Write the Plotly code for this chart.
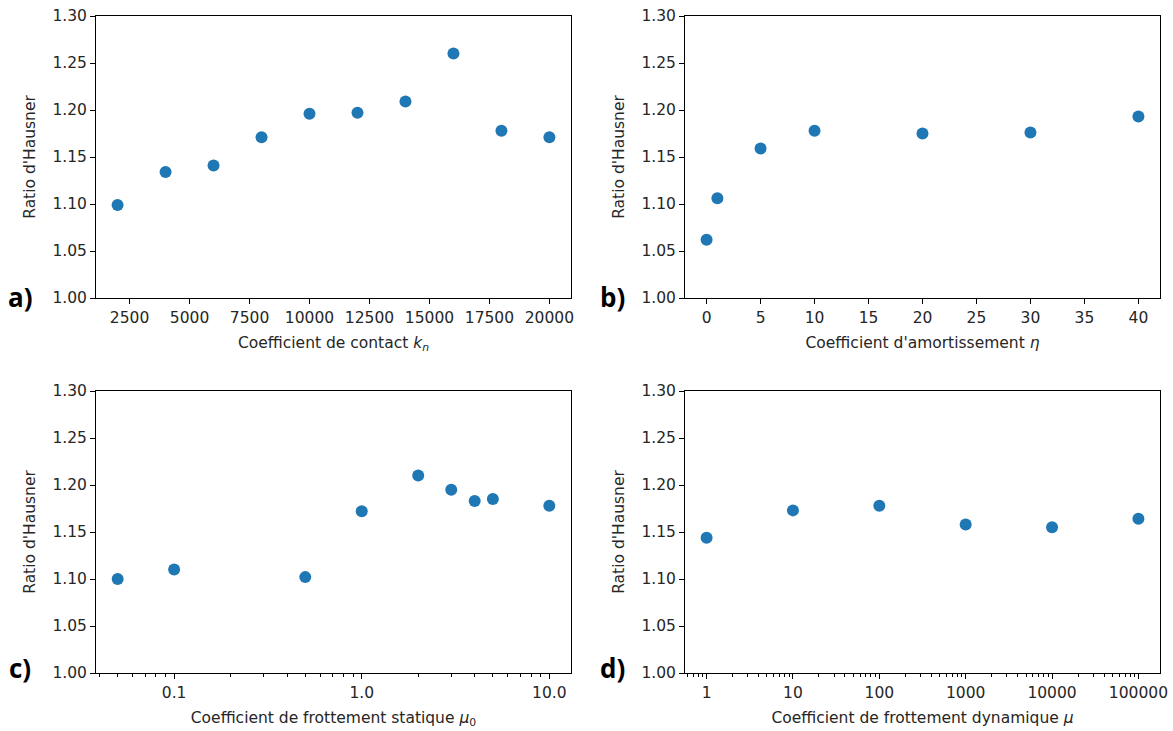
import plotly.graph_objects as go

# ---- data ----
kn = [2000, 4000, 6000, 8000, 10000, 12000, 14000, 16000, 18000, 20000]
hr_kn = [1.099, 1.134, 1.141, 1.171, 1.196, 1.197, 1.209, 1.260, 1.178, 1.171]

eta = [0, 1, 5, 10, 20, 30, 40]
hr_eta = [1.062, 1.106, 1.159, 1.178, 1.175, 1.176, 1.193]

mu0 = [0.05, 0.1, 0.5, 1.0, 2.0, 3.0, 4.0, 5.0, 10.0]
hr_mu0 = [1.100, 1.110, 1.102, 1.172, 1.210, 1.195, 1.183, 1.185, 1.178]

mu = [1, 10, 100, 1000, 10000, 100000]
hr_mu = [1.144, 1.173, 1.178, 1.158, 1.155, 1.164]

kn_ticks = [2500, 5000, 7500, 10000, 12500, 15000, 17500, 20000]
mu0_ticks = [0.1, 1.0, 10.0]
mu0_ticktext = ["0.1", "1.0", "10.0"]
mu_ticks = [1, 10, 100, 1000, 10000, 100000]
mu_ticktext = ["1", "10", "100", "1000", "10000", "100000"]

y_title = "Ratio d'Hausner"
x_titles = [
    "Coefficient de contact <i>k<sub>n</sub></i>",
    "Coefficient d'amortissement <i>η</i>",
    "Coefficient de frottement statique <i>μ</i><sub>0</sub>",
    "Coefficient de frottement dynamique <i>μ</i>",
]
panel_labels = ["a)", "b)", "c)", "d)"]

# ---- layout geometry ----
W, H = 1173, 731
xdom_left = [96 / W, 571 / W]
xdom_right = [685 / W, 1160 / W]
ydom_top = [1 - 298 / H, 1 - 16 / H]
ydom_bot = [1 - 673 / H, 1 - 391 / H]

BLUE = "#1f77b4"
FONT = "DejaVu Sans"
FS = 15.5
TXT = "#262626"

fig = go.Figure()
series = [(kn, hr_kn), (eta, hr_eta), (mu0, hr_mu0), (mu, hr_mu)]
for i, (xs, ys) in enumerate(series):
    ax = "" if i == 0 else str(i + 1)
    fig.add_trace(go.Scatter(
        x=xs, y=ys, mode="markers", xaxis="x" + ax, yaxis="y" + ax,
        marker=dict(color=BLUE, size=12, line=dict(width=0)),
        showlegend=False, hoverinfo="x+y",
    ))

def minor_vals(lo_exp, hi_exp):
    out = []
    for e in range(lo_exp, hi_exp + 1):
        for m in range(2, 10):
            out.append(m * 10 ** e)
    return out

common_axis = dict(
    showline=True, linecolor="black", linewidth=1, mirror=True,
    ticks="outside", ticklen=5, tickwidth=1, tickcolor="black",
    showgrid=False, zeroline=False, automargin=False,
    tickfont=dict(family=FONT, size=FS, color=TXT),
)
yaxis_common = dict(common_axis, range=[1.0, 1.3], dtick=0.05, tick0=1.0,
                    tickformat=".2f",
                    title=dict(text=y_title, font=dict(family=FONT, size=FS, color=TXT), standoff=12))

def xt(t):
    return dict(text=t, font=dict(family=FONT, size=FS, color=TXT), standoff=11)

fig.update_layout(
    width=W, height=H,
    margin=dict(l=0, r=0, t=0, b=0, autoexpand=False),
    paper_bgcolor="white", plot_bgcolor="white",
    xaxis=dict(common_axis, domain=xdom_left, anchor="y", range=[1100, 20900],
               tickvals=kn_ticks, tickformat="d",
               title=xt(x_titles[0])),
    yaxis=dict(yaxis_common, domain=ydom_top, anchor="x"),
    xaxis2=dict(common_axis, domain=xdom_right, anchor="y2", range=[-2, 42],
                dtick=5, tick0=0, title=xt(x_titles[1])),
    yaxis2=dict(yaxis_common, domain=ydom_top, anchor="x2"),
    xaxis3=dict(common_axis, domain=xdom_left, anchor="y3", type="log",
                range=[-1.4165, 1.1155], tickvals=mu0_ticks, ticktext=mu0_ticktext,
                minor=dict(ticks="outside", ticklen=3, tickcolor="black",
                           tickvals=minor_vals(-2, 0), showgrid=False),
                title=xt(x_titles[2])),
    yaxis3=dict(yaxis_common, domain=ydom_bot, anchor="x3"),
    xaxis4=dict(common_axis, domain=xdom_right, anchor="y4", type="log",
                range=[-0.25, 5.25], tickvals=mu_ticks, ticktext=mu_ticktext,
                minor=dict(ticks="outside", ticklen=3, tickcolor="black",
                           tickvals=minor_vals(-1, 5), showgrid=False),
                title=xt(x_titles[3])),
    yaxis4=dict(yaxis_common, domain=ydom_bot, anchor="x4"),
)

label_pos = [(20, 297), (612, 297), (20, 668), (612, 668)]
for lab, (px, py) in zip(panel_labels, label_pos):
    fig.add_annotation(
        x=px / W, y=1 - py / H, xref="paper", yref="paper",
        text="<b>" + lab + "</b>", showarrow=False,
        font=dict(family="Open Sans", size=26, color="black"),
        xanchor="center", yanchor="middle",
    )

fig.write_html("out.html",
               config={"displayModeBar": False},
               post_script="document.body.style.margin='0';document.body.style.overflow='hidden';")
